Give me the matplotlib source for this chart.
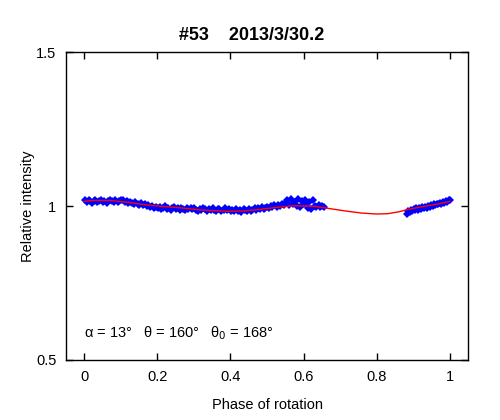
import numpy as np
from matplotlib import pyplot as plt

plt.rcParams['font.family'] = ['Liberation Sans', 'DejaVu Sans']

# puntos observados (fase, intensidad relativa)
fase_obs = [0.003, 0.008, 0.012, 0.017, 0.021, 0.026, 0.030, 0.035, 0.041, 0.046, 0.050,
            0.055, 0.061, 0.066, 0.070, 0.076, 0.081, 0.085, 0.091, 0.096, 0.100,
            0.105, 0.111, 0.116, 0.120, 0.126, 0.131, 0.135, 0.140, 0.146, 0.151,
            0.155, 0.160, 0.166, 0.171, 0.175, 0.181, 0.186, 0.190, 0.195,
            0.201, 0.206, 0.210, 0.215, 0.221, 0.226, 0.230, 0.236, 0.241, 0.245, 0.250,
            0.256, 0.261, 0.265, 0.270, 0.276, 0.281, 0.285, 0.291, 0.296, 0.300,
            0.305, 0.311, 0.316, 0.320, 0.326, 0.331, 0.335, 0.340, 0.346, 0.351,
            0.355, 0.361, 0.366, 0.370, 0.375, 0.381, 0.386, 0.390, 0.396,
            0.401, 0.405, 0.410, 0.416, 0.421, 0.425, 0.430, 0.436, 0.441, 0.445, 0.451,
            0.456, 0.460, 0.466, 0.471, 0.475, 0.480, 0.486, 0.491, 0.495, 0.500,
            0.506, 0.511, 0.515, 0.520, 0.526, 0.531, 0.535, 0.541, 0.546,
            0.550, 0.556, 0.561, 0.565, 0.570, 0.575, 0.581, 0.586, 0.590, 0.596, 0.601,
            0.605, 0.611, 0.616, 0.620, 0.626, 0.631, 0.635, 0.641, 0.646, 0.650, 0.655,
            0.882, 0.886, 0.890, 0.893, 0.897, 0.901, 0.905, 0.909, 0.913, 0.917, 0.921,
            0.925, 0.929, 0.933, 0.937, 0.941, 0.945, 0.949, 0.953, 0.957, 0.961, 0.965,
            0.969, 0.973, 0.977, 0.981, 0.985, 0.989, 0.993, 0.997, 1.000]
int_obs = [1.018, 1.012, 1.020, 1.015, 1.010, 1.017, 1.021, 1.014, 1.016, 1.019, 1.013,
           1.017, 1.011, 1.015, 1.020, 1.016, 1.013, 1.018, 1.014, 1.017, 1.021,
           1.019, 1.012, 1.016, 1.009, 1.014, 1.011, 1.006, 1.013, 1.008, 1.004,
           1.009, 1.003, 1.007, 0.999, 1.004, 0.996, 1.001, 0.994, 0.998,
           0.992, 0.997, 0.989, 0.995, 0.999, 0.991, 0.994, 0.987, 0.993, 0.996, 0.990,
           0.992, 0.988, 0.995, 0.991, 0.986, 0.993, 0.989, 0.994, 0.990, 0.992,
           0.988, 0.985, 0.991, 0.987, 0.993, 0.989, 0.984, 0.990, 0.986, 0.992,
           0.988, 0.983, 0.989, 0.991, 0.985, 0.987, 0.994, 0.986, 0.990,
           0.983, 0.988, 0.985, 0.991, 0.984, 0.987, 0.981, 0.989, 0.986, 0.983, 0.990,
           0.985, 0.988, 0.992, 0.987, 0.994, 0.989, 0.996, 0.991, 0.993, 0.997,
           0.995, 1.000, 0.996, 1.002, 0.998, 1.004, 0.999, 1.006, 1.002,
           1.010, 1.018, 1.003, 1.022, 1.008, 1.014, 1.001, 1.024, 0.998, 1.016, 1.006,
           1.020, 0.995, 1.012, 0.991, 1.019, 1.000, 0.996, 1.003, 0.998, 1.001, 0.997,
           0.974, 0.985, 0.981, 0.988, 0.983, 0.990, 0.986, 0.992, 0.988, 0.994, 0.990,
           0.996, 0.993, 0.998, 0.995, 1.001, 0.998, 1.003, 1.000, 1.006, 1.003, 1.008,
           1.005, 1.010, 1.007, 1.012, 1.010, 1.015, 1.013, 1.018, 1.021]

# curva del modelo
fase_mod = [0.0, 0.02, 0.07, 0.12, 0.16, 0.21, 0.255, 0.32, 0.39, 0.44, 0.48, 0.53,
            0.575, 0.63, 0.68, 0.72, 0.76, 0.80, 0.83, 0.86, 0.89, 0.93, 0.97, 1.0]
int_mod = [1.015, 1.018, 1.018, 1.012, 1.005, 0.999, 0.995, 0.987, 0.983, 0.984, 0.989,
           0.996, 1.001, 0.999, 0.990, 0.983, 0.977, 0.974, 0.975, 0.981, 0.990, 0.999,
           1.007, 1.015]

titulo = "#53    2013/3/30.2"
xticks = [0, 0.2, 0.4, 0.6, 0.8, 1]
xtick_labels = ["0", "0.2", "0.4", "0.6", "0.8", "1"]
yticks = [0.5, 1, 1.5]
ytick_labels = ["0.5", "1", "1.5"]

fig = plt.figure(figsize=(5, 4.2), dpi=100)
ax = fig.add_axes([0.132, 0.143, 0.804, 0.733])

ax.plot(fase_obs, int_obs, linestyle='none', marker='D', markersize=3.6,
        color='#0000ff', markeredgewidth=0, zorder=2)
ax.plot(fase_mod, int_mod, color='#ff0000', linewidth=1, zorder=3)

ax.set_xlim(-0.05, 1.05)
ax.set_ylim(0.5, 1.5)
ax.set_xticks(xticks)
ax.set_xticklabels(xtick_labels)
ax.set_yticks(yticks)
ax.set_yticklabels(ytick_labels)
ax.tick_params(direction='in', length=5, width=1, top=True, right=True,
               labelsize=10.5, pad=7, colors='black')
for s in ax.spines.values():
    s.set_linewidth(1)

ax.set_xlabel('Phase of rotation', fontsize=10.5, labelpad=10)
ax.set_ylabel('Relative intensity', fontsize=10.5, labelpad=1)
fig.text(0.503, 0.916, titulo, ha='center', va='center', fontsize=13, fontweight='bold')

ax.text(0.0, 0.588, "α = 13°   θ = 160°   θ$_0$ = 168°", fontsize=10.5,
        ha='left', va='center')

plt.savefig("out.png", dpi=100)
